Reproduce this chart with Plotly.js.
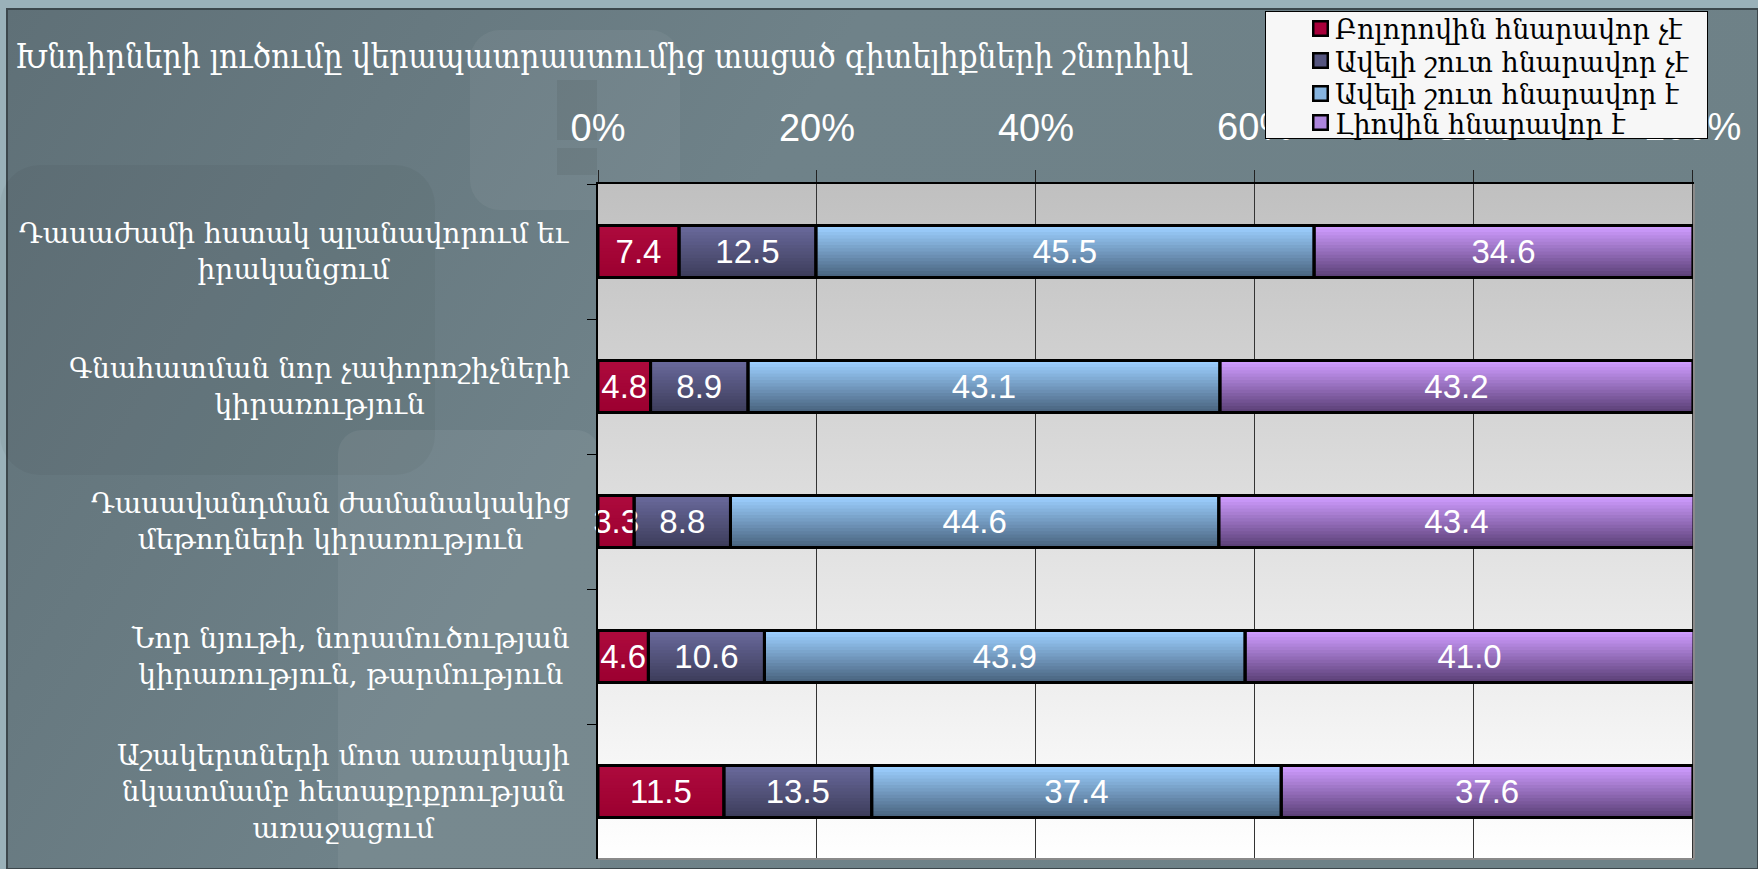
<!DOCTYPE html>
<html><head><meta charset="utf-8">
<script src="https://cdn.plot.ly/plotly-3.0.1.min.js"></script>
<style>html,body{margin:0;padding:0;background:#6b7e86;}#chart{width:1758px;height:869px;}</style>
</head><body><div id="chart"></div>
<script>
// ---- data ----
const categories = [
  'Դասաժամի հստակ պլանավորում եւ<br>իրականցում',
  'Գնահատման նոր չափորոշիչների<br>կիրառություն',
  'Դասավանդման ժամանակակից<br>մեթոդների կիրառություն',
  'Նոր նյութի, նորամուծության<br>կիրառություն, թարմություն',
  'Աշակերտների մոտ առարկայի<br>նկատմամբ հետաքրքրության<br>առաջացում'
];
const seriesNames = ['Բոլորովին հնարավոր չէ', 'Ավելի շուտ հնարավոր չէ', 'Ավելի շուտ հնարավոր է', 'Լիովին հնարավոր է'];
const notPossible = [7.4, 4.8, 3.3, 4.6, 11.5];
const ratherNot = [12.5, 8.9, 8.8, 10.6, 13.5];
const ratherYes = [45.5, 43.1, 44.6, 43.9, 37.4];
const fullyYes = [34.6, 43.2, 43.4, 41.0, 37.6];
const xTickVals = [0, 20, 40, 60, 80, 100];
const xTickText = ['0%', '20%', '40%', '60%', '80%', '100%'];
const titleText = 'Խնդիրների լուծումը վերապատրաստումից տացած գիտելիքների շնորհիվ';

// ---- style ----
const series = [notPossible, ratherNot, ratherYes, fullyYes];
const grads = [['#ad0a3d', '#9c0030'], ['#69699b', '#3d3d5b'], ['#9ccfff', '#4a6580'], ['#cf9cff', '#5c4178']];
const legendColors = ['#a8003a', '#55557f', '#86b4e0', '#ad85dc'];
const N = 16, W = 0.385;
const tickFont = {family:'Liberation Sans, Arial, sans-serif', size:38, color:'#ffffff'};

function hex(c){return [parseInt(c.slice(1,3),16),parseInt(c.slice(3,5),16),parseInt(c.slice(5,7),16)];}
function mix(a,b,t){const A=hex(a),B=hex(b);return 'rgb('+A.map((v,i)=>Math.round(v+(B[i]-v)*t)).join(',')+')';}

const bases = series.map(() => []);
categories.forEach((c, i) => { let acc = 0; series.forEach((s, k) => { bases[k][i] = acc; acc += s[i]; }); });

const traces = [];
series.forEach((s, k) => {
  for (let j = 0; j < N; j++) {
    traces.push({type:'bar', orientation:'h', y:categories, x:s, base:bases[k],
      width: W - j*W/N, offset: -W/2 + j*W/N,
      marker:{color: mix(grads[k][0], grads[k][1], j/(N-1)), line:{width:0}},
      showlegend:false, hoverinfo:'skip'});
  }
});
series.forEach((s, k) => {
  traces.push({type:'bar', orientation:'h', y:categories, x:s, base:bases[k],
    width:W, offset:-W/2, name:seriesNames[k], showlegend:false,
    marker:{color:'rgba(0,0,0,0)', line:{color:'#000', width:3}},
    text: s.map(v => v.toFixed(1)), textposition:'inside', insidetextanchor:'middle',
    constraintext:'none', textangle:0, cliponaxis:false,
    insidetextfont:{family:'Liberation Sans, Arial, sans-serif', size:33, color:'#ffffff'},
    hoverinfo:'x+name'});
});

const svgURI = s => 'data:image/svg+xml;charset=utf-8,' + encodeURIComponent(s);
const bgSvg = `<svg xmlns="http://www.w3.org/2000/svg" width="1758" height="869" viewBox="0 0 1758 869">
<defs><linearGradient id="p" x1="0" y1="0" x2="1" y2="0.3"><stop offset="0" stop-color="#5f7077"/><stop offset="0.45" stop-color="#6f8289"/><stop offset="1" stop-color="#6e8187"/></linearGradient></defs>
<rect width="1758" height="869" fill="#9ab1b9"/>
<rect x="7" y="9" width="1751" height="860" fill="url(#p)" stroke="#3c474c" stroke-width="2"/>
<rect x="0" y="165" width="435" height="310" rx="40" fill="#000" opacity="0.04"/>
<rect x="470" y="30" width="210" height="180" rx="30" fill="#fff" opacity="0.05"/>
<rect x="338" y="430" width="262" height="460" rx="24" fill="#fff" opacity="0.06"/>
<rect x="557" y="80" width="40" height="60" fill="#000" opacity="0.06"/>
<rect x="557" y="148" width="40" height="27" fill="#000" opacity="0.06"/>
</svg>`;
const plotSvg = `<svg xmlns="http://www.w3.org/2000/svg" width="100" height="100" viewBox="0 0 100 100" preserveAspectRatio="none">
<defs><linearGradient id="g" x1="0" y1="0" x2="0" y2="1"><stop offset="0" stop-color="#c0c0c0"/><stop offset="1" stop-color="#ffffff"/></linearGradient></defs>
<rect width="100" height="100" fill="url(#g)"/></svg>`;

// pixel -> paper helpers (plot area: x 598..1694, y 184..859)
const PL = 598, PW = 1096, PT = 184, PH = 675;
const px = v => (v - PL) / PW, py = v => (PT + PH - v) / PH;
const legendRows = [28, 61, 93, 123];
const nAxisTicks = 3; // first ticks drawn by the axis, the rest sit under the legend box

const upperTicks = xTickVals.slice(nAxisTicks).map((v, i) => ({xref:'x', x:v, xanchor:'center',
  yref:'paper', y:py(127), yanchor:'middle', text:xTickText[nAxisTicks + i], showarrow:false, font:tickFont}));
const legendBox = {xref:'paper', x:px(1265), xanchor:'left', yref:'paper', y:py(11), yanchor:'top',
  text:' ', showarrow:false, width:441, height:126, borderpad:0, bgcolor:'#f7f7f7',
  bordercolor:'#000', borderwidth:1, font:{size:8}};
const legendSymbols = legendRows.map((r, k) => ({xref:'paper', x:px(1320), xanchor:'center', yref:'paper',
  y:py(r), yanchor:'middle', text:' ', showarrow:false, width:12, height:12, borderpad:0,
  bgcolor:legendColors[k], bordercolor:'#000', borderwidth:2.5, font:{size:6}}));
const legendTexts = seriesNames.map((n, k) => ({xref:'paper', x:px(1333), xanchor:'left', yref:'paper',
  y:py(legendRows[k]+1), yanchor:'middle', text:n, showarrow:false,
  font:{family:'DejaVu Serif', size:27, color:'#000'}}));
const catLabels = categories.map(c => ({xref:'paper', x:0, xshift:-26, xanchor:'right', yref:'y', y:c,
  yanchor:'middle', text:c, align:'center', showarrow:false,
  font:{family:'DejaVu Serif', size:28, color:'#ffffff'}}));

const layout = {
  width:1758, height:869,
  margin:{l:PL, r:1758-PL-PW, t:PT, b:869-PT-PH, pad:0},
  paper_bgcolor:'#6b7e86', plot_bgcolor:'rgba(0,0,0,0)',
  barmode:'overlay', showlegend:false,
  title:{text:titleText, font:{family:'DejaVu Serif Condensed, DejaVu Serif', size:33, color:'#ffffff'},
    xref:'container', x:15/1758, xanchor:'left', yref:'container', y:1-56/869, yanchor:'middle'},
  xaxis:{side:'top', range:[0,100.1], tickmode:'array', tickvals:xTickVals,
    ticktext:xTickText.map((t, i) => i < nAxisTicks ? t : ''),
    tickfont:tickFont,
    ticks:'outside', ticklen:12, tickcolor:'#222', tickwidth:1, ticklabelstandoff:14,
    showgrid:true, gridcolor:'#333333', gridwidth:1, showline:true, linecolor:'#000', linewidth:2,
    zeroline:false, fixedrange:true},
  yaxis:{type:'category', range:[4.5,-0.5], showticklabels:false, ticks:'outside', ticklen:9,
    tickcolor:'#000', tickwidth:1, tickson:'boundaries', showgrid:false, showline:true,
    linecolor:'#000', linewidth:2, zeroline:false, fixedrange:true},
  images:[
    {source:svgURI(bgSvg), xref:'paper', yref:'paper', x:px(0), y:py(0), sizex:1758/PW, sizey:869/PH,
      xanchor:'left', yanchor:'top', sizing:'stretch', layer:'below'},
    {source:svgURI(plotSvg), xref:'paper', yref:'paper', x:0, y:1, sizex:1, sizey:1,
      xanchor:'left', yanchor:'top', sizing:'stretch', layer:'below'}
  ],
  shapes:[
    {type:'line', xref:'paper', yref:'paper', x0:1, x1:1, y0:0, y1:1, line:{color:'#8a8a8a', width:2}},
    {type:'line', xref:'paper', yref:'paper', x0:0, x1:1, y0:0, y1:0, line:{color:'#8a8a8a', width:2}}
  ],
  annotations: catLabels.concat(upperTicks, [legendBox], legendSymbols, legendTexts)
};

Plotly.newPlot('chart', traces, layout, {displayModeBar:false, staticPlot:true});
</script>
</body></html>
